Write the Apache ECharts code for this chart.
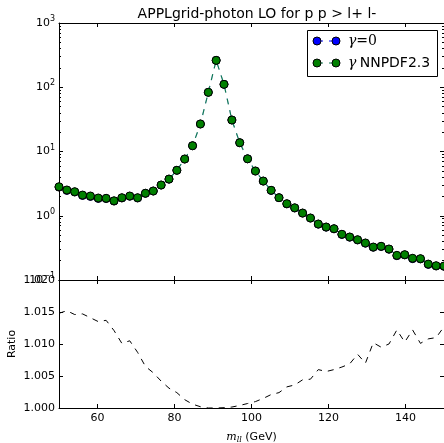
<!DOCTYPE html>
<html><head><meta charset="utf-8">
<script src="https://cdn.jsdelivr.net/npm/echarts@6/dist/echarts.min.js"></script>
<style>html,body{margin:0;padding:0;background:#fff}#c{width:444px;height:443px}</style>
</head><body><div id="c"></div>
<script>
// m_ll bin positions (GeV)
const massGeV = [50, 52.04, 54.08, 56.12, 58.16, 60.20, 62.24, 64.29, 66.33, 68.37,
  70.41, 72.45, 74.49, 76.53, 78.57, 80.61, 82.65, 84.69, 86.73, 88.78,
  90.82, 92.86, 94.90, 96.94, 98.98, 101.02, 103.06, 105.10, 107.14, 109.18,
  111.22, 113.27, 115.31, 117.35, 119.39, 121.43, 123.47, 125.51, 127.55, 129.59,
  131.63, 133.67, 135.71, 137.76, 139.80, 141.84, 143.88, 145.92, 147.96, 150];
// gamma NNPDF2.3 cross section
const xsecNNPDF = [2.83, 2.52, 2.37, 2.10, 2.03, 1.89, 1.87, 1.71, 1.91, 2.03,
  1.91, 2.24, 2.43, 3.01, 3.72, 5.1, 7.64, 12.3, 26.8, 83.4,
  262, 111, 30.9, 13.7, 7.7, 4.97, 3.47, 2.49, 1.91, 1.54,
  1.33, 1.10, 0.923, 0.744, 0.668, 0.629, 0.515, 0.467, 0.424, 0.377,
  0.326, 0.335, 0.304, 0.242, 0.248, 0.218, 0.215, 0.177, 0.167, 0.165];
// gamma = 0 cross section (hidden beneath the NNPDF markers at this scale)
const xsecGamma0 = [2.79, 2.48, 2.34, 2.07, 2.00, 1.86, 1.85, 1.69, 1.89, 2.01,
  1.89, 2.23, 2.42, 3.00, 3.71, 5.09, 7.63, 12.3, 26.8, 83.4,
  262, 111, 30.9, 13.7, 7.69, 4.96, 3.46, 2.48, 1.91, 1.53,
  1.32, 1.10, 0.919, 0.740, 0.664, 0.625, 0.512, 0.464, 0.420, 0.374,
  0.323, 0.332, 0.301, 0.239, 0.246, 0.215, 0.213, 0.175, 0.165, 0.163];
// ratio NNPDF / gamma=0
const ratioVals = [1.0148, 1.0152, 1.0146, 1.0147, 1.0141, 1.0135, 1.0137, 1.0121, 1.0101, 1.0105,
  1.0087, 1.0065, 1.0055, 1.0042, 1.0031, 1.0024, 1.0013, 1.0006, 1.0002, 1.0000,
  1.0000, 1.00005, 1.00015, 1.0004, 1.0007, 1.0010, 1.0015, 1.0021, 1.0024, 1.0033,
  1.0036, 1.0044, 1.0045, 1.0060, 1.0057, 1.0060, 1.0064, 1.0069, 1.0084, 1.0070,
  1.0102, 1.0095, 1.0100, 1.0122, 1.0103, 1.0122, 1.0101, 1.0108, 1.0110, 1.0127];
const xTicks = [60, 80, 100, 120, 140];
const logMajor = [0.1, 1, 10, 100, 1000];
const logMinor = [0.2,0.3,0.4,0.5,0.6,0.7,0.8,0.9, 2,3,4,5,6,7,8,9, 20,30,40,50,60,70,80,90, 200,300,400,500,600,700,800,900];
const ratioTicks = [1.000, 1.005, 1.010, 1.015, 1.020];

const F = 'DejaVu Sans';
const pairs = (xs, ys) => xs.map((x, i) => [x, ys[i]]);
const line = {show: true, lineStyle: {color: '#000', width: 1}};
function xAx(grid, pos, labels, extra) {
  return Object.assign({
    type: 'value', gridIndex: grid, position: pos, min: 50, max: 150,
    axisLine: line,
    axisTick: {show: true, inside: true, length: 4, customValues: xTicks, lineStyle: {color: '#000'}},
    axisLabel: {show: labels, customValues: xTicks, color: '#000', fontFamily: F, fontSize: 11, margin: 5},
    splitLine: {show: false}
  }, extra || {});
}
const logFmt = v => {
  const e = Math.round(Math.log10(v));
  return '{b|10}{e|' + (e < 0 ? '\u2212' + (-e) : e) + '}';
};
const supRich = {
  b: {fontFamily: F, fontSize: 11, lineHeight: 16, color: '#000'},
  e: {fontFamily: F, fontSize: 8, lineHeight: 8, verticalAlign: 'top', color: '#000'}
};
function logAx(pos, ticks, len, labels, showLine) {
  return {
    type: 'log', logBase: 10, gridIndex: 0, position: pos, min: 0.1, max: 1000,
    axisLine: {show: showLine, lineStyle: {color: '#000', width: 1}},
    axisTick: {show: true, inside: true, length: len, customValues: ticks, lineStyle: {color: '#000'}},
    axisLabel: {show: labels, customValues: ticks, formatter: logFmt, rich: supRich, margin: 4},
    splitLine: {show: false}
  };
}
function ratioAx(pos, labels) {
  return {
    type: 'value', gridIndex: 1, position: pos, min: 1.0, max: 1.02,
    axisLine: line,
    axisTick: {show: true, inside: true, length: 4, customValues: ratioTicks, lineStyle: {color: '#000'}},
    axisLabel: {show: labels, customValues: ratioTicks, formatter: v => v.toFixed(3), color: '#000', fontFamily: F, fontSize: 11, margin: 4},
    splitLine: {show: false},
    name: labels ? 'Ratio' : '', nameLocation: 'middle', nameRotate: 90, nameGap: 41, nameMoveOverlap: false,
    nameTextStyle: {fontFamily: F, fontSize: 11, color: '#000'}
  };
}

const chart = echarts.init(document.getElementById('c'), null, {renderer: 'canvas'});
chart.setOption({
  animation: false,
  backgroundColor: '#fff',
  title: {text: 'APPLgrid-photon LO for p p > l+ l-', left: 252, top: 2, textAlign: 'center',
    textStyle: {fontFamily: F, fontSize: 14, fontWeight: 'normal', color: '#000'}},
  grid: [
    {left: 59, top: 23, width: 385, height: 257, outerBoundsMode: 'none', containLabel: false},
    {left: 59, top: 280, width: 385, height: 128, outerBoundsMode: 'none', containLabel: false}
  ],
  xAxis: [
    xAx(0, 'bottom', false),
    xAx(0, 'top', false),
    xAx(1, 'bottom', true, {name: '{m|m}{s|ll} (GeV)', nameLocation: 'middle', nameGap: 22, nameMoveOverlap: false,
      nameTextStyle: {fontFamily: F, fontSize: 11, color: '#000', rich: {
        m: {fontFamily: 'DejaVu Serif', fontStyle: 'italic', fontSize: 11, lineHeight: 14, color: '#000'},
        s: {fontFamily: 'DejaVu Serif', fontStyle: 'italic', fontSize: 8, lineHeight: 8, verticalAlign: 'bottom', color: '#000'}
      }}}),
    xAx(1, 'top', false)
  ],
  yAxis: [
    logAx('left', logMajor, 4, true, true),
    logAx('right', logMajor, 4, false, true),
    logAx('left', logMinor, 2, false, false),
    logAx('right', logMinor, 2, false, false),
    ratioAx('left', true),
    ratioAx('right', false)
  ],
  graphic: [
    {type: 'rect', shape: {x: 307.5, y: 30.5, width: 130, height: 46}, style: {fill: '#fff', stroke: '#000', lineWidth: 1}, z: 100},
    {type: 'line', shape: {x1: 317, y1: 41, x2: 336, y2: 41}, style: {stroke: '#0000ff', lineWidth: 1, lineDash: [6, 6]}, z: 101},
    {type: 'circle', shape: {cx: 317, cy: 41, r: 4}, style: {fill: '#0000ff', stroke: '#000', lineWidth: 1}, z: 102},
    {type: 'circle', shape: {cx: 336, cy: 41, r: 4}, style: {fill: '#0000ff', stroke: '#000', lineWidth: 1}, z: 102},
    {type: 'text', x: 348, y: 41, style: {text: '{g|\u03b3}{t|=0}', verticalAlign: 'middle', rich: {
      g: {fontFamily: 'DejaVu Serif', fontStyle: 'italic', fontSize: 14, fill: '#000'},
      t: {fontFamily: 'DejaVu Serif', fontSize: 14, fill: '#000'}}}, z: 102},
    {type: 'line', shape: {x1: 317, y1: 63, x2: 336, y2: 63}, style: {stroke: '#117a55', lineWidth: 1, lineDash: [6, 6]}, z: 101},
    {type: 'circle', shape: {cx: 317, cy: 63, r: 4}, style: {fill: '#008000', stroke: '#000', lineWidth: 1}, z: 102},
    {type: 'circle', shape: {cx: 336, cy: 63, r: 4}, style: {fill: '#008000', stroke: '#000', lineWidth: 1}, z: 102},
    {type: 'text', x: 348, y: 63, style: {text: '{g|\u03b3} {t|NNPDF2.3}', verticalAlign: 'middle', rich: {
      g: {fontFamily: 'DejaVu Serif', fontStyle: 'italic', fontSize: 14, fill: '#000'},
      t: {fontFamily: F, fontSize: 14, fill: '#000'}}}, z: 102}
  ],
  series: [
    {name: '\u03b3=0', type: 'line', xAxisIndex: 0, yAxisIndex: 0, data: pairs(massGeV, xsecGamma0),
      symbol: 'circle', symbolSize: 8, lineStyle: {color: '#0000ff', width: 1, type: [6, 6], opacity: 0.25},
      itemStyle: {color: '#0000ff', borderColor: '#000', borderWidth: 1}},
    {name: '\u03b3 NNPDF2.3', type: 'line', xAxisIndex: 0, yAxisIndex: 0, data: pairs(massGeV, xsecNNPDF),
      symbol: 'circle', symbolSize: 8, lineStyle: {color: '#117a55', width: 1.2, type: [6, 6]},
      itemStyle: {color: '#008000', borderColor: '#000', borderWidth: 1}},
    {name: 'Ratio', type: 'line', xAxisIndex: 2, yAxisIndex: 4, data: pairs(massGeV, ratioVals),
      showSymbol: false, symbol: 'none', lineStyle: {color: '#000', width: 1, type: [6, 6]}}
  ]
});
</script></body></html>
